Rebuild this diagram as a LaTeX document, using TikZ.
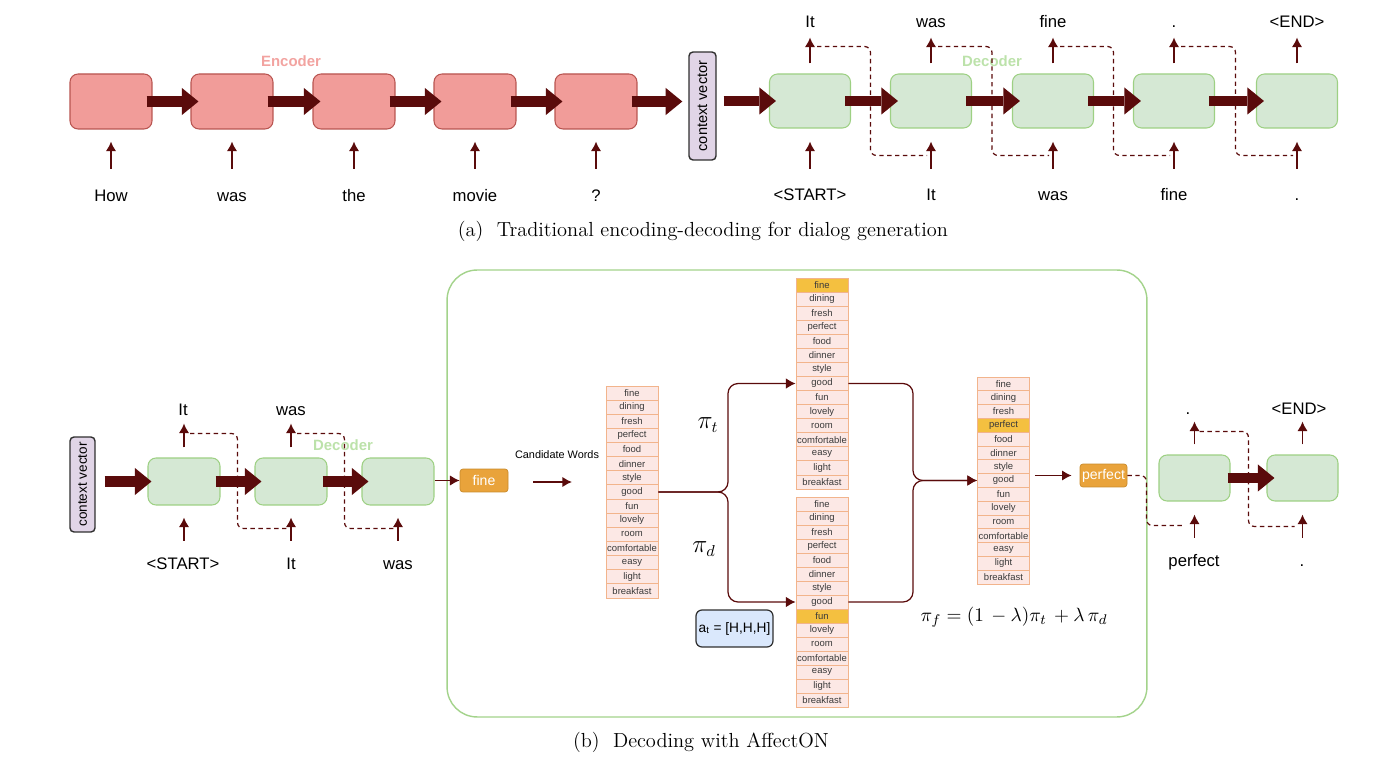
\documentclass[tikz,border=0pt]{standalone}
\usepackage{fontspec}
\setsansfont{Liberation Sans}
\usetikzlibrary{arrows.meta, positioning, calc}
\definecolor{EncFill}{HTML}{F19C99}
\definecolor{EncDraw}{HTML}{B85450}
\definecolor{EncLabel}{HTML}{F2A3A0}
\definecolor{DecFill}{HTML}{D5E8D4}
\definecolor{DecDraw}{HTML}{9DD083}
\definecolor{DecLabel}{HTML}{BCE2AA}
\definecolor{ArrowDark}{HTML}{5A0B0B}
\definecolor{CtxLilac}{HTML}{E1D5E7}
\definecolor{NearBlack}{HTML}{2F2F2F}
\definecolor{FrameGreen}{HTML}{A3D38B}
\definecolor{CellFill}{HTML}{FCE8E5}
\definecolor{CellDraw}{HTML}{F2B48C}
\definecolor{CellText}{HTML}{3A3A3A}
\definecolor{HiYellow}{HTML}{F4C040}
\definecolor{ChosenOrange}{HTML}{E9A33B}
\definecolor{ChosenDraw}{HTML}{C98A2A}
\definecolor{ActBlue}{HTML}{DAE8FC}

% one column of candidate words: name, x, top y, row height, highlighted row
\newcommand{\wordcolumn}[5]{%
  \foreach \w [count=\i] in {fine,dining,fresh,perfect,food,dinner,style,good,fun,lovely,room,comfortable,easy,light,breakfast}{
    \ifnum\i=#5\relax \def\cellshade{HiYellow}\else\def\cellshade{CellFill}\fi
    \node[cell, fill=\cellshade, minimum height=#4*0.02cm] (#1-\i) at (#2,{#3+(\i-0.5)*#4}) {\w};
  }}
\newcommand{\tokstart}{<START>}
\newcommand{\tokend}{<END>}

\begin{document}
\begin{tikzpicture}[x=0.02cm, y=-0.02cm, every node/.style={font=\sffamily},
    encbox/.style={draw=EncDraw, fill=EncFill, rounded corners=0.16cm, minimum width=1.64cm, minimum height=1.1cm, line width=0.6pt},
    decbox/.style={draw=DecDraw, fill=DecFill, rounded corners=0.16cm, minimum width=1.62cm, minimum height=1.08cm, line width=0.6pt},
    stepbox/.style={decbox, minimum width=1.44cm, minimum height=0.94cm},
    ctxbox/.style={draw=NearBlack, fill=CtxLilac, rounded corners=0.08cm, rotate=90, inner sep=0pt, line width=0.8pt, font=\sffamily\fontsize{8.3}{10}\selectfont},
    word/.style={font=\sffamily\fontsize{9.5}{11}\selectfont, anchor=base},
    tag/.style={font=\sffamily\bfseries\fontsize{8.5}{10}\selectfont},
    cell/.style={draw=CellDraw, minimum width=1.04cm, inner sep=0pt, line width=0.5pt, text=CellText, font=\sffamily\fontsize{5.4}{6}\selectfont},
    chosen/.style={draw=ChosenDraw, fill=ChosenOrange, rounded corners=0.06cm, minimum width=0.96cm, minimum height=0.46cm, inner sep=0pt, text=white, font=\sffamily\fontsize{8}{9}\selectfont},
    bigarrow/.style={draw=ArrowDark, line width=5.8pt, -{Triangle[length=9.5pt, width=15.5pt, line width=0pt]}},
    thinarrow/.style={draw=ArrowDark, line width=1pt, -{Latex[length=5.5pt, width=6pt]}},
    flow/.style={thinarrow, line width=0.7pt, rounded corners=0.2cm},
    feedback/.style={draw=ArrowDark, line width=0.7pt, dash pattern=on 2.5pt off 2pt, rounded corners=0.12cm}]
    \useasboundingbox (0,0) rectangle (1400,766);

    % (a) encoder - context vector - decoder
    \foreach \x [count=\i] in {111,232,354,475,596}
        \node[encbox] (enc\i) at (\x,101.5) {};
    \node[tag, text=EncLabel] (enclabel) at (291,61) {Encoder};
    \node[ctxbox, minimum width=2.16cm, minimum height=0.54cm] (ctx) at (702.5,106) {context vector};
    \foreach \x [count=\i] in {810,931,1053,1174,1297}
        \node[decbox] (dec\i) at (\x,101) {};
    \node[tag, text=DecLabel] (declabel) at (992,61) {Decoder};

    \foreach \x/\w [count=\i] in {111/How, 232/was, 354/the, 475/movie, 596/?}
        \node[word] (ein\i) at (\x,202) {\w};
    \foreach \x/\w [count=\i] in {810/\tokstart, 931/It, 1053/was, 1174/fine, 1297/.}
        \node[word] (din\i) at (\x,201) {\w};
    \foreach \x/\w [count=\i] in {810/It, 931/was, 1053/fine, 1174/., 1297/\tokend}
        \node[word] (dout\i) at (\x,28) {\w};

    \foreach \i in {1,...,5}{
        \draw[thinarrow] ([yshift=-0.78cm]enc\i.south) -- ([yshift=-0.24cm]enc\i.south);
        \draw[thinarrow] ([yshift=-0.8cm]dec\i.south) -- ([yshift=-0.26cm]dec\i.south);
        \draw[thinarrow] ([yshift=0.2cm]dec\i.north) -- ([yshift=0.72cm]dec\i.north);
    }
    \foreach \i/\j in {1/2,2/3,3/4,4/5}{
        \draw[bigarrow] ([xshift=-0.12cm]enc\i.east) -- ([xshift=0.16cm]enc\j.west);
        \draw[bigarrow] ([xshift=-0.12cm]dec\i.east) -- ([xshift=0.16cm]dec\j.west);
    }
    % ctx is turned: north is its left side, south its right side
    \draw[bigarrow] ([xshift=-0.12cm]enc5.east) -- ([xshift=-0.12cm]ctx.north |- enc5.east);
    \draw[bigarrow] ([xshift=0.14cm]ctx.south |- dec1.west) -- ([xshift=0.14cm]dec1.west);
    \foreach \i/\j in {1/2,2/3,3/4,4/5}
        \draw[feedback] ([xshift=0.14cm,yshift=0.54cm]dec\i.north) -| ([yshift=-0.54cm]$(dec\i.south east)!0.5!(dec\j.south west)$) -- ([xshift=-0.08cm,yshift=-0.54cm]dec\j.south);

    \node[font=\rmfamily\fontsize{11.6}{13}\selectfont] (capa) at (703,231) {(a)~~Traditional encoding-decoding for dialog generation};

    % (b) decoding with AffectON
    \node[draw=FrameGreen, line width=0.8pt, rounded corners=0.6cm, minimum width=14cm, minimum height=8.94cm] (affecton) at (797,493.5) {};

    \node[ctxbox, minimum width=1.9cm, minimum height=0.5cm, font=\sffamily\fontsize{7.7}{9}\selectfont] (ctxb) at (82.5,484.5) {context vector};
    \foreach \x [count=\i] in {184,291,398}
        \node[stepbox] (stp\i) at (\x,481.5) {};
    \node[tag, text=DecLabel] (declabelb) at (343,445) {Decoder};
    \node[chosen] (fine) at (484,480.5) {fine};

    \foreach \x/\w [count=\i] in {183/It, 291/was}
        \node[word] (sout\i) at (\x,416) {\w};
    \foreach \x/\w [count=\i] in {183/\tokstart, 291/It, 398/was}
        \node[word] (sin\i) at (\x,570) {\w};

    \draw[bigarrow] ([xshift=0.18cm]ctxb.south |- stp1.west) -- ([xshift=0.08cm]stp1.west);
    \foreach \i/\j in {1/2,2/3}{
        \draw[bigarrow] ([xshift=-0.1cm]stp\i.east) -- ([xshift=0.14cm]stp\j.west);
        \draw[thinarrow] ([yshift=0.2cm]stp\i.north) -- ([yshift=0.68cm]stp\i.north);
        \draw[feedback] ([xshift=0.12cm,yshift=0.48cm]stp\i.north) -| ([yshift=-0.46cm]$(stp\i.south east)!0.5!(stp\j.south west)$) -- ([xshift=-0.06cm,yshift=-0.46cm]stp\j.south);
    }
    \foreach \i in {1,2,3}
        \draw[thinarrow] ([yshift=-0.7cm]stp\i.south) -- ([yshift=-0.24cm]stp\i.south);
    \draw[thinarrow] (stp3.east |- fine.west) -- (fine.west);

    \node[font=\sffamily\fontsize{6.2}{7}\selectfont] (candlabel) at (557,455) {Candidate Words};
    \coordinate (candfrom) at (533,482);
    \coordinate (candto) at (572,482);
    \draw[thinarrow] (candfrom) -- (candto);

    \wordcolumn{cand}{632}{386}{14.13}{0}
    \wordcolumn{pit}{822}{278}{14.07}{1}
    \wordcolumn{pid}{822}{497}{14}{9}
    \wordcolumn{pif}{1003.5}{377}{13.8}{4}

    \coordinate (splitL) at (728,492);
    \coordinate (splitR) at (913,480);
    \draw[flow] (cand-8.east) -| (splitL |- pit-8.west) -- (pit-8.west);
    \draw[flow] (cand-8.east) -| (splitL |- pid-8.west) -- (pid-8.west);
    \draw[flow] (pit-8.east) -| (splitR |- pif-8.west) -- (pif-8.west);
    \draw[flow] (pid-8.east) -| (splitR |- pif-8.west) -- (pif-8.west);

    \node[font=\fontsize{13.5}{15}\selectfont] (pitlabel) at (708,425) {$\pi_t$};
    \node[font=\fontsize{13.5}{15}\selectfont] (pidlabel) at (704,549) {$\pi_d$};
    \node[draw=NearBlack, fill=ActBlue, rounded corners=0.12cm, line width=0.7pt, minimum width=1.54cm, minimum height=0.74cm, inner sep=0pt, font=\sffamily\fontsize{7.8}{9}\selectfont] (act) at (734.5,628.5) {a\textsubscript{t} = [H,H,H]};
    \node[font=\fontsize{10.8}{13}\selectfont] (mixlabel) at (1014,617) {$\pi_f = (1\,-\lambda)\pi_t\,+\lambda\,\pi_d$};

    \node[chosen, minimum width=0.94cm] (perf) at (1103.5,475.5) {perfect};
    \draw[thinarrow] ([xshift=0.1cm]pif-8.east |- perf.west) -- ([xshift=-0.16cm]perf.west);

    \node[stepbox, minimum width=1.42cm, minimum height=0.92cm] (nxt1) at (1194.5,478) {};
    \node[stepbox, minimum width=1.42cm, minimum height=0.92cm] (nxt2) at (1302.5,478) {};
    \node[word] (nout1) at (1188,415) {.};
    \node[word] (nout2) at (1299,415) {\tokend};
    \node[word] (nin1) at (1194,567) {perfect};
    \node[word] (nin2) at (1302,567) {.};
    \draw[bigarrow] ([xshift=-0.06cm]nxt1.east) -- ([xshift=0.16cm]nxt2.west);
    \foreach \i in {1,2}{
        \draw[thinarrow] ([yshift=0.2cm]nxt\i.north) -- ([yshift=0.66cm]nxt\i.north);
        \draw[thinarrow] ([yshift=-0.72cm]nxt\i.south) -- ([yshift=-0.26cm]nxt\i.south);
    }
    \draw[feedback] (perf.east) -| ([xshift=-0.24cm,yshift=-0.48cm]nxt1.south west) -- ([xshift=-0.2cm,yshift=-0.48cm]nxt1.south);
    \draw[feedback] ([xshift=0.1cm,yshift=0.46cm]nxt1.north) -| ([yshift=-0.5cm]$(nxt1.south east)!0.5!(nxt2.south west)$) -- ([xshift=-0.16cm,yshift=-0.5cm]nxt2.south);

    \node[font=\rmfamily\fontsize{11.6}{13}\selectfont] (capb) at (701,742) {(b)~~Decoding with AffectON};
\end{tikzpicture}
\end{document}
